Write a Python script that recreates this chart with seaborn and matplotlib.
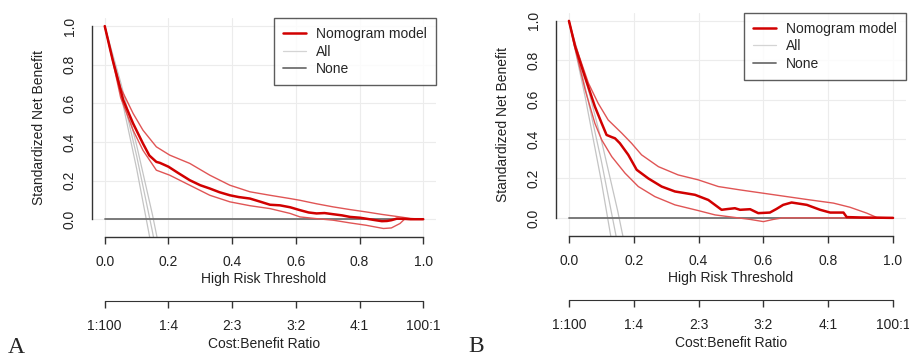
import numpy as np
import pandas as pd
import matplotlib
matplotlib.use("Agg")
import matplotlib.pyplot as plt
from matplotlib.lines import Line2D
import seaborn as sns

# ---- data (standardized net benefit vs threshold) ----
ticks = [0.0, 0.2, 0.4, 0.6, 0.8, 1.0]
tick_labels = ["0.0", "0.2", "0.4", "0.6", "0.8", "1.0"]
cb_labels = ["1:100", "1:4", "2:3", "3:2", "4:1", "100:1"]

# panel A
a_main_t = [0, 0.025, 0.058, 0.089, 0.12, 0.14, 0.162, 0.173, 0.2, 0.23, 0.267, 0.3, 0.33, 0.36,
            0.393, 0.42, 0.456, 0.49, 0.519, 0.55, 0.582, 0.613, 0.64, 0.665, 0.69, 0.717, 0.745,
            0.77, 0.8, 0.82, 0.85, 0.87, 0.886, 0.9, 0.917, 0.94, 0.96, 1.0]
a_main_y = [1.0, 0.824, 0.617, 0.496, 0.392, 0.33, 0.297, 0.292, 0.272, 0.24, 0.202, 0.176, 0.159,
            0.14, 0.124, 0.115, 0.107, 0.09, 0.075, 0.072, 0.062, 0.047, 0.035, 0.03, 0.032, 0.026,
            0.02, 0.012, 0.008, 0.003, -0.005, -0.01, -0.009, -0.005, 0.003, 0.002, 0.0, 0.0]
a_up_t = [0, 0.025, 0.05, 0.089, 0.12, 0.162, 0.204, 0.267, 0.33, 0.393, 0.456, 0.519, 0.582,
          0.613, 0.665, 0.717, 0.77, 0.82, 0.87, 0.927, 0.96, 1.0]
a_up_y = [1.0, 0.83, 0.68, 0.548, 0.461, 0.375, 0.332, 0.289, 0.228, 0.176, 0.142, 0.124, 0.107,
          0.098, 0.08, 0.064, 0.05, 0.038, 0.025, 0.012, 0.004, 0.0]
a_lo_t = [0, 0.025, 0.05, 0.089, 0.12, 0.162, 0.204, 0.267, 0.33, 0.393, 0.456, 0.519, 0.582,
          0.613, 0.665, 0.717, 0.77, 0.82, 0.875, 0.9, 0.927, 0.943, 0.96, 1.0]
a_lo_y = [1.0, 0.82, 0.63, 0.461, 0.357, 0.254, 0.228, 0.176, 0.124, 0.09, 0.07, 0.055, 0.03,
          0.012, 0.003, -0.005, -0.019, -0.031, -0.048, -0.045, -0.022, 0.003, 0.0, 0.0]
a_all_t = [0, 0.05, 0.10, 0.15, 0.20]
a_all_lo = [1.0, 0.651, 0.263, -0.170, -0.66]
a_all_mid = [1.0, 0.682, 0.329, -0.066, -0.51]
a_all_hi = [1.0, 0.709, 0.384, 0.022, -0.385]

# panel B
b_main_t = [0, 0.019, 0.049, 0.08, 0.101, 0.116, 0.132, 0.142, 0.157, 0.183, 0.209, 0.245, 0.286,
            0.327, 0.36, 0.389, 0.43, 0.471, 0.49, 0.512, 0.528, 0.559, 0.584, 0.62, 0.64, 0.661,
            0.687, 0.734, 0.775, 0.806, 0.847, 0.857, 0.9, 1.0]
b_main_y = [1.0, 0.87, 0.717, 0.565, 0.48, 0.421, 0.41, 0.404, 0.379, 0.32, 0.244, 0.2, 0.159,
            0.134, 0.125, 0.117, 0.091, 0.041, 0.045, 0.049, 0.041, 0.044, 0.024, 0.027, 0.045,
            0.066, 0.078, 0.066, 0.041, 0.027, 0.027, 0.004, 0.002, 0.0]
b_up_t = [0, 0.019, 0.06, 0.09, 0.121, 0.163, 0.193, 0.224, 0.276, 0.337, 0.399, 0.461, 0.528,
          0.6, 0.672, 0.74, 0.816, 0.867, 0.919, 0.95, 1.0]
b_up_y = [1.0, 0.88, 0.684, 0.582, 0.497, 0.43, 0.379, 0.32, 0.26, 0.218, 0.193, 0.159, 0.142,
          0.125, 0.108, 0.092, 0.075, 0.054, 0.024, 0.002, 0.0]
b_lo_t = [0, 0.019, 0.05, 0.08, 0.101, 0.132, 0.173, 0.214, 0.265, 0.327, 0.399, 0.451, 0.522,
          0.56, 0.6, 0.63, 0.66, 1.0]
b_lo_y = [1.0, 0.86, 0.65, 0.48, 0.396, 0.311, 0.227, 0.159, 0.108, 0.066, 0.037, 0.015, 0.0,
          -0.008, -0.019, -0.008, 0.0, 0.0]
b_all_t = [0, 0.05, 0.10, 0.15, 0.20]
b_all_lo = [1.0, 0.614, 0.185, -0.294, -0.83]
b_all_mid = [1.0, 0.663, 0.288, -0.131, -0.60]
b_all_hi = [1.0, 0.713, 0.394, 0.038, -0.36]

none_t = [0.0, 1.0]
none_y = [0.0, 0.0]

RED = "#d10000"
RED_CI = "#e05555"
ALL_COL = "#c4c4c4"
NONE_COL = "#707070"

sns.set_style("white")
plt.rcParams["font.family"] = ["Liberation Sans", "DejaVu Sans"]
plt.rcParams["font.size"] = 10


def draw_panel(ax, main, up, lo, alls, all_t):
    for yy in alls:
        sns.lineplot(x=all_t, y=yy, ax=ax, color=ALL_COL, lw=0.9, sort=False, estimator=None)
    sns.lineplot(x=none_t, y=none_y, ax=ax, color=NONE_COL, lw=1.3, sort=False, estimator=None)
    sns.lineplot(x=up[0], y=up[1], ax=ax, color=RED_CI, lw=1.0, sort=False, estimator=None)
    sns.lineplot(x=lo[0], y=lo[1], ax=ax, color=RED_CI, lw=1.0, sort=False, estimator=None)
    sns.lineplot(x=main[0], y=main[1], ax=ax, color=RED, lw=1.8, sort=False, estimator=None)

    ax.set_xlim(-0.04, 1.04)
    ax.set_ylim(-0.092, 1.042)
    ax.set_xticks(ticks)
    ax.set_xticklabels(tick_labels)
    ax.set_yticks(ticks)
    ax.set_yticklabels(tick_labels, rotation=90, va="center")
    ax.grid(True, color="#ececec", lw=0.8)
    sns.despine(ax=ax)
    for s in ["left", "bottom"]:
        ax.spines[s].set_bounds(0, 1)
        ax.spines[s].set_color("#333333")
        ax.spines[s].set_linewidth(1.0)
    ax.tick_params(axis="both", direction="out", length=5, width=1.0, color="#333333",
                   labelsize=10, labelcolor="#222222")
    ax.tick_params(axis="x", pad=8)
    ax.tick_params(axis="y", pad=6)
    ax.set_xlabel("High Risk Threshold", fontsize=10, color="#222222", labelpad=2)
    ax.set_ylabel("Standardized Net Benefit", fontsize=10, color="#222222", labelpad=12)

    # cost:benefit axis below
    ax2 = ax.twiny()
    ax2.set_xlim(ax.get_xlim())
    ax2.set_xticks(ticks)
    ax2.set_xticklabels(cb_labels)
    ax2.xaxis.set_ticks_position("bottom")
    ax2.xaxis.set_label_position("bottom")
    for s in ["top", "right", "left"]:
        ax2.spines[s].set_visible(False)
    ax2.spines["bottom"].set_position(("outward", 46))
    ax2.spines["bottom"].set_bounds(0, 1)
    ax2.spines["bottom"].set_color("#333333")
    ax2.tick_params(axis="x", direction="out", length=5, width=1.0, color="#333333",
                    labelsize=10, labelcolor="#222222", pad=8)
    ax2.set_xlabel("Cost:Benefit Ratio", fontsize=10, color="#222222", labelpad=3)
    ax2.grid(False)

    handles = [Line2D([], [], color=RED, lw=1.8),
               Line2D([], [], color="#d4d4d4", lw=0.9),
               Line2D([], [], color=NONE_COL, lw=1.3)]
    leg = ax.legend(handles, ["Nomogram model", "All", "None"], loc="upper right",
                    borderaxespad=0, fancybox=False, frameon=True, fontsize=10,
                    handlelength=1.7, handletextpad=0.7, labelspacing=0.25, borderpad=0.65)
    leg.get_frame().set_edgecolor("#333333")
    leg.get_frame().set_linewidth(1.0)


fig = plt.figure(figsize=(9.09, 3.61), dpi=100)
ax_a = fig.add_axes([92 / 909, 124 / 361, 344 / 909, 219 / 361])
ax_b = fig.add_axes([556 / 909, 125 / 361, 350 / 909, 223.4 / 361])

draw_panel(ax_a, (a_main_t, a_main_y), (a_up_t, a_up_y), (a_lo_t, a_lo_y),
           [a_all_lo, a_all_mid, a_all_hi], a_all_t)
draw_panel(ax_b, (b_main_t, b_main_y), (b_up_t, b_up_y), (b_lo_t, b_lo_y),
           [b_all_lo, b_all_mid, b_all_hi], b_all_t)

fig.text(8 / 909, 1 - 353 / 361, "A", fontsize=17, family=["Liberation Serif", "DejaVu Serif"],
         va="baseline", ha="left")
fig.text(468 / 909, 1 - 352 / 361, "B", fontsize=17, family=["Liberation Serif", "DejaVu Serif"],
         va="baseline", ha="left")

fig.savefig("out.png", dpi=100)
